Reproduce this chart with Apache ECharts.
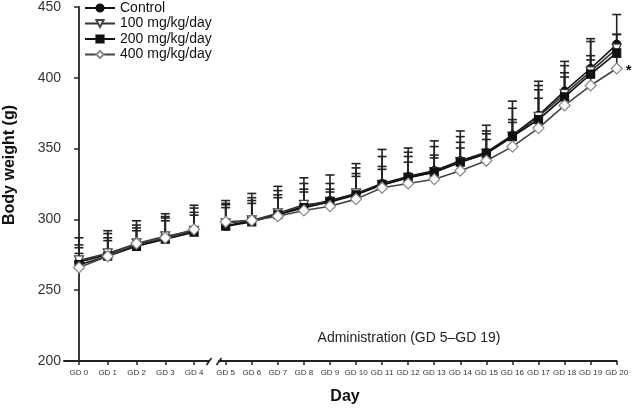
<!DOCTYPE html>
<html><head><meta charset="utf-8">
<script src="https://cdn.jsdelivr.net/npm/echarts@6/dist/echarts.min.js"></script>
<style>html,body{margin:0;padding:0;background:#fff}#c{width:636px;height:408px}</style>
</head><body><div id="c"></div>
<script>
// ---- data ----
const dayLabels = ['GD 0','GD 1','GD 2','GD 3','GD 4','GD 5','GD 6','GD 7','GD 8','GD 9','GD 10',
  'GD 11','GD 12','GD 13','GD 14','GD 15','GD 16','GD 17','GD 18','GD 19','GD 20'];
const seriesNames = ['Control','100 mg/kg/day','200 mg/kg/day','400 mg/kg/day'];
const control = [270,275,282,287,292,295,299,303,309,313,318,325,330,334,341,347,359,373,390,406,423];
const mg100   = [271,276,283,288,292,297,299,304,310,312,318,324,329,333,340,346,358,372,388,404,420];
const mg200   = [268,274,281,286,291,295,298,303,308,312,317,324,329,333,340,346,358,370,386,402,417];
const mg400   = [266,274,283,287,293,298,299,302,306,309,314,322,325,328,334,341,351,364,380,394,406];
const sdControl = [17,17,17,17,18,18,19,20,20,18,21,24,20,21,21,19,24,24,21,21,21];
const sd100     = [11,14,13,14,16,14,16,16,15,13,18,20,18,18,18,16,20,22,20,21,10];
const sd200     = [12,13,13,15,14,15,15,14,13,9,15,13,15,12,14,14,12,21,17,13,13];
const sd400     = [10,11,9,12,10,10,12,13,13,10,16,13,15,15,16,15,17,21,20,18,8];
const yTicks = [200,250,300,350,400,450];
const segments = [[0,4],[5,20]];

const FONT = 'Liberation Sans, Arial, Helvetica, sans-serif';
const groups = [
  {name:seriesNames[0], vals:control, sd:sdControl, symbol:'circle', size:8, rot:0, fill:'#111', border:'#111', line:'#111'},
  {name:seriesNames[1], vals:mg100, sd:sd100, symbol:'triangle', size:9, rot:180, fill:'#fff', border:'#444', line:'#333'},
  {name:seriesNames[2], vals:mg200, sd:sd200, symbol:'rect', size:8, rot:0, fill:'#111', border:'#111', line:'#111'},
  {name:seriesNames[3], vals:mg400, sd:sd400, symbol:'diamond', size:11, rot:0, fill:'#fff', border:'#888', line:'#444'}
];

function pts(vals, seg){ const o=[]; for(let i=seg[0];i<=seg[1];i++) o.push([i, vals[i]]); return o; }
function errPts(vals, sd, seg){ const o=[]; for(let i=seg[0];i<=seg[1];i++) o.push([i, vals[i], sd[i]]); return o; }

function errRender(params, api){
  const x = api.value(0), y = api.value(1), up = api.value(2);
  const p0 = api.coord([x, y]);
  const p1 = api.coord([x, y + up]);
  const st = {stroke:'#222', lineWidth:1.6};
  return {type:'group', children:[
    {type:'line', shape:{x1:p0[0], y1:p0[1], x2:p1[0], y2:p1[1]}, style:st},
    {type:'line', shape:{x1:p1[0]-4.5, y1:p1[1], x2:p1[0]+4.5, y2:p1[1]}, style:st}
  ]};
}

const series = [];
groups.forEach((g, gi) => {
  segments.forEach((seg, k) => {
    const s = {
      type:'line', name:g.name, xAxisIndex:k, yAxisIndex:k,
      data: pts(g.vals, seg),
      symbol:g.symbol, symbolSize:g.size, symbolRotate:g.rot,
      showAllSymbol:true,
      itemStyle:{color:g.fill, borderColor:g.border, borderWidth:1.2},
      lineStyle:{color:g.line, width:1.6},
      z: 10 + gi, animation:false
    };
    if (gi === 3 && k === 1) {
      s.markPoint = {symbol:'circle', symbolSize:1, itemStyle:{color:'rgba(0,0,0,0)'},
        label:{show:true, formatter:'*', color:'#111', fontSize:15, fontWeight:'bold', fontFamily:FONT, offset:[12,2]},
        data:[{coord:[20, mg400[20]]}]};
    }
    series.push(s);
  });
});
groups.forEach((g, gi) => {
  segments.forEach((seg, k) => {
    series.push({
      type:'custom', name:g.name, xAxisIndex:k, yAxisIndex:k,
      renderItem: errRender, data: errPts(g.vals, g.sd, seg),
      encode:{x:0, y:1}, z:2, animation:false, silent:true
    });
  });
});

function xAxisCfg(k, min, max, seg){
  const vals = []; for(let i=seg[0];i<=seg[1];i++) vals.push(i);
  return {
    type:'value', gridIndex:k, min:min, max:max,
    axisLine:{show:true, lineStyle:{color:'#222', width:1.8}},
    axisTick:{show:true, customValues:vals, length:4, lineStyle:{color:'#222', width:1.5}},
    axisLabel:{show:true, customValues:vals, formatter:v => dayLabels[v], fontSize:8, color:'#333', fontFamily:FONT, margin:8},
    splitLine:{show:false}
  };
}
function yAxisCfg(k, show){
  return {
    type:'value', gridIndex:k, min:yTicks[0], max:yTicks[yTicks.length-1], interval:50, show:show,
    axisLine:{show:true, lineStyle:{color:'#222', width:1.8}},
    axisTick:{show:true, length:5, lineStyle:{color:'#222', width:1.5}},
    axisLabel:{fontSize:14, color:'#333', fontFamily:FONT, margin:3},
    splitLine:{show:false}
  };
}

const chart = echarts.init(document.getElementById('c'), null, {renderer:'canvas'});
chart.setOption({
  backgroundColor:'#fff',
  animation:false,
  grid:[
    {left:64, width:145, top:6, height:355},
    {left:219, width:397.7, top:6, height:355}
  ],
  xAxis:[xAxisCfg(0, -0.52, 4.52, segments[0]), xAxisCfg(1, 4.743, 20, segments[1])],
  yAxis:[yAxisCfg(0, true), yAxisCfg(1, false)],
  legend:{
    data:seriesNames, orient:'vertical', left:79, top:-4,
    itemWidth:30, itemHeight:9, itemGap:1.5,
    textStyle:{fontSize:14, color:'#111', fontFamily:FONT, lineHeight:14}
  },
  graphic:[
    {type:'text', x:10, y:165, rotation:Math.PI/2,
      style:{text:'Body weight (g)', font:'bold 16px '+FONT, fill:'#111', align:'center', verticalAlign:'middle'}},
    {type:'text', x:345, y:397,
      style:{text:'Day', font:'bold 16px '+FONT, fill:'#111', align:'center', verticalAlign:'middle'}},
    {type:'text', x:409, y:338,
      style:{text:'Administration (GD 5\u2013GD 19)', font:'14px '+FONT, fill:'#222', align:'center', verticalAlign:'middle'}},
    {type:'line', shape:{x1:206.5, y1:365, x2:211.5, y2:358}, style:{stroke:'#222', lineWidth:1.6}},
    {type:'line', shape:{x1:216.5, y1:365, x2:221.5, y2:358}, style:{stroke:'#222', lineWidth:1.6}}
  ],
  series:series
});
</script>
</body></html>
